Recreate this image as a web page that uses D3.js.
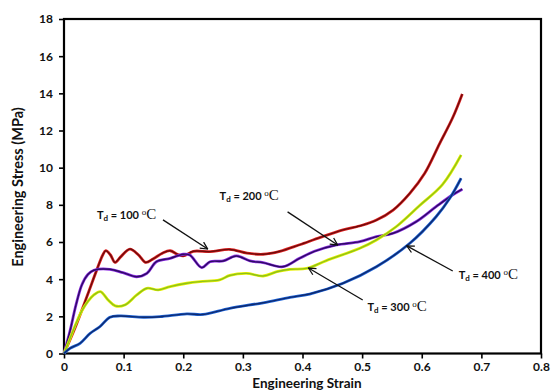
<!DOCTYPE html>
<html><head><meta charset="utf-8">
<script src="https://cdn.jsdelivr.net/npm/d3@7"></script>
<style>
html,body{margin:0;padding:0;background:#fff;}
svg{display:block;}
</style></head>
<body>
<svg id="chart" width="557" height="392"></svg>
<script>
// ---- data (strain, stress MPa) ----
const xTicks = [0,0.1,0.2,0.3,0.4,0.5,0.6,0.7,0.8];
const yTicks = [0,2,4,6,8,10,12,14,16,18];
const xTitle = "Engineering Strain";
const yTitle = "Engineering Stress (MPa)";

const td100 = [[0,0],[0.02,1.5],[0.04,3.2],[0.055,4.5],[0.065,5.3],[0.07,5.53],[0.078,5.3],[0.0855,4.9],[0.095,5.2],[0.1106,5.62],[0.125,5.3],[0.137,4.9],[0.15,5.1],[0.165,5.4],[0.178,5.53],[0.19,5.34],[0.2,5.25],[0.217,5.5],[0.245,5.48],[0.278,5.6],[0.307,5.4],[0.334,5.34],[0.362,5.5],[0.395,5.85],[0.43,6.25],[0.468,6.65],[0.5,6.9],[0.524,7.18],[0.552,7.72],[0.58,8.62],[0.605,9.7],[0.63,11.3],[0.652,12.7],[0.668,13.97]];
const td200 = [[0,0],[0.01,1.2],[0.02,2.6],[0.03,3.7],[0.04,4.25],[0.05,4.48],[0.077,4.53],[0.099,4.35],[0.122,4.13],[0.139,4.31],[0.155,4.94],[0.178,5.12],[0.2,5.34],[0.211,5.3],[0.231,4.62],[0.245,4.94],[0.267,4.98],[0.289,5.25],[0.312,4.98],[0.334,4.89],[0.367,4.67],[0.395,5.12],[0.42,5.5],[0.457,5.84],[0.496,6.02],[0.524,6.29],[0.552,6.47],[0.591,7.1],[0.624,7.9],[0.65,8.5],[0.668,8.84]];
const td300 = [[0,0],[0.01,0.8],[0.02,1.6],[0.03,2.3],[0.04,2.8],[0.05,3.15],[0.061,3.33],[0.074,2.88],[0.086,2.56],[0.102,2.61],[0.122,3.15],[0.139,3.51],[0.158,3.42],[0.178,3.6],[0.206,3.78],[0.228,3.87],[0.261,3.96],[0.278,4.2],[0.306,4.31],[0.334,4.17],[0.357,4.4],[0.379,4.53],[0.407,4.58],[0.44,5.0],[0.496,5.66],[0.524,6.11],[0.557,6.82],[0.596,7.95],[0.635,9.1],[0.666,10.68]];
const td400 = [[0,0],[0.01,0.28],[0.027,0.55],[0.044,1.09],[0.06,1.44],[0.077,1.95],[0.094,2.02],[0.133,1.95],[0.161,1.98],[0.206,2.13],[0.233,2.1],[0.278,2.43],[0.334,2.73],[0.379,3.02],[0.412,3.2],[0.468,3.78],[0.524,4.67],[0.58,5.93],[0.624,7.36],[0.647,8.35],[0.666,9.43]];

const seriesNames = ["100","200","300","400"];
const seriesData = [td100, td200, td300, td400];
const outerColors = ["#e02525","#8a2be2","#e8f000","#1e64d8"];
const innerColors = ["#6e0b0b","#2e0b63","#8cc21a","#0f2a6e"];

// annotation: label anchor and arrow (data units)
const annLabels = ["100","200","300","400"];
const annText = [[0.0553,7.24],[0.261,8.26],[0.509,2.29],[0.662,4.01]];
const annFrom = [[0.166,7.19],[0.375,7.62],[0.501,2.88],[0.652,4.44]];
const annTo   = [[0.241,5.62],[0.459,5.84],[0.41,4.6],[0.575,5.79]];

// ---- layout ----
const margin = {left:64, top:19, right:16, bottom:38.5};
const W = 557, H = 392;
const iw = W - margin.left - margin.right, ih = H - margin.top - margin.bottom;
const svg = d3.select("#chart");
const g = svg.append("g").attr("transform",`translate(${margin.left},${margin.top})`);

const x = d3.scaleLinear().domain([0,0.8]).range([0,iw]);
const y = d3.scaleLinear().domain([0,18]).range([ih,0]);

const font = "Lato, 'Open Sans', sans-serif";

// axes
const xa = g.append("g").attr("transform",`translate(0,${ih})`)
  .call(d3.axisBottom(x).tickValues(xTicks).tickSize(5).tickPadding(4).tickFormat(d=>d===0?"0":d3.format(".1f")(d)));
const ya = g.append("g")
  .call(d3.axisLeft(y).tickValues(yTicks).tickSize(5).tickPadding(6).tickFormat(d3.format("d")));
[xa,ya].forEach(a=>{
  a.select(".domain").remove();
  a.selectAll(".tick line").attr("stroke","#000").attr("stroke-width",1.6);
  a.selectAll(".tick text").attr("font-family",font).attr("font-weight","bold").attr("font-size",12).attr("fill","#111");
});

// frame
g.append("rect").attr("x",0).attr("y",0).attr("width",iw).attr("height",ih)
  .attr("fill","none").attr("stroke","#000").attr("stroke-width",2.2);

// curves
const line = d3.line().x(d=>x(d[0])).y(d=>y(d[1])).curve(d3.curveCatmullRom.alpha(0.5));
seriesData.forEach((s,i)=>{
  g.append("path").datum(s).attr("d",line).attr("fill","none")
    .attr("stroke",outerColors[i]).attr("stroke-width",2.8).attr("stroke-linejoin","round");
  g.append("path").datum(s).attr("d",line).attr("fill","none")
    .attr("stroke",innerColors[i]).attr("stroke-width",1.4).attr("stroke-linejoin","round");
});

// arrow marker
svg.append("defs").append("marker").attr("id","arr")
  .attr("viewBox","0 0 10 10").attr("refX",9).attr("refY",5)
  .attr("markerWidth",9).attr("markerHeight",9).attr("markerUnits","userSpaceOnUse")
  .attr("orient","auto")
  .append("path").attr("d","M1,1 L9,5 L1,9").attr("fill","none").attr("stroke","#111").attr("stroke-width",1.4);

annLabels.forEach((lab,i)=>{
  g.append("line")
    .attr("x1",x(annFrom[i][0])).attr("y1",y(annFrom[i][1]))
    .attr("x2",x(annTo[i][0])).attr("y2",y(annTo[i][1]))
    .attr("stroke","#111").attr("stroke-width",1.3).attr("marker-end","url(#arr)");
  const t = g.append("text").attr("x",x(annText[i][0])).attr("y",y(annText[i][1]))
    .attr("fill","#111");
  t.append("tspan").text("T").attr("font-family",font).attr("font-weight","bold").attr("font-size",11);
  t.append("tspan").text("d").attr("font-family",font).attr("font-weight","bold").attr("font-size",8).attr("dy",2);
  t.append("tspan").text(" = " + lab + " ").attr("font-family",font).attr("font-weight","bold").attr("font-size",11).attr("dy",-2);
  t.append("tspan").text("o").attr("font-family","'Liberation Serif', 'Times New Roman', serif").attr("font-size",9).attr("dy",-4);
  t.append("tspan").text("C").attr("font-family","'Liberation Serif', 'Times New Roman', serif").attr("font-size",15).attr("dy",4);
});

// axis titles
svg.append("text").attr("x",307).attr("y",388)
  .attr("text-anchor","middle").attr("font-family",font).attr("font-weight","bold").attr("font-size",13.5).attr("fill","#111")
  .text(xTitle);
svg.append("text").attr("transform",`translate(23,187) rotate(-90)`)
  .attr("text-anchor","middle").attr("font-family",font).attr("font-weight","bold").attr("font-size",14.5).attr("fill","#111")
  .text(yTitle);
</script>
</body></html>
